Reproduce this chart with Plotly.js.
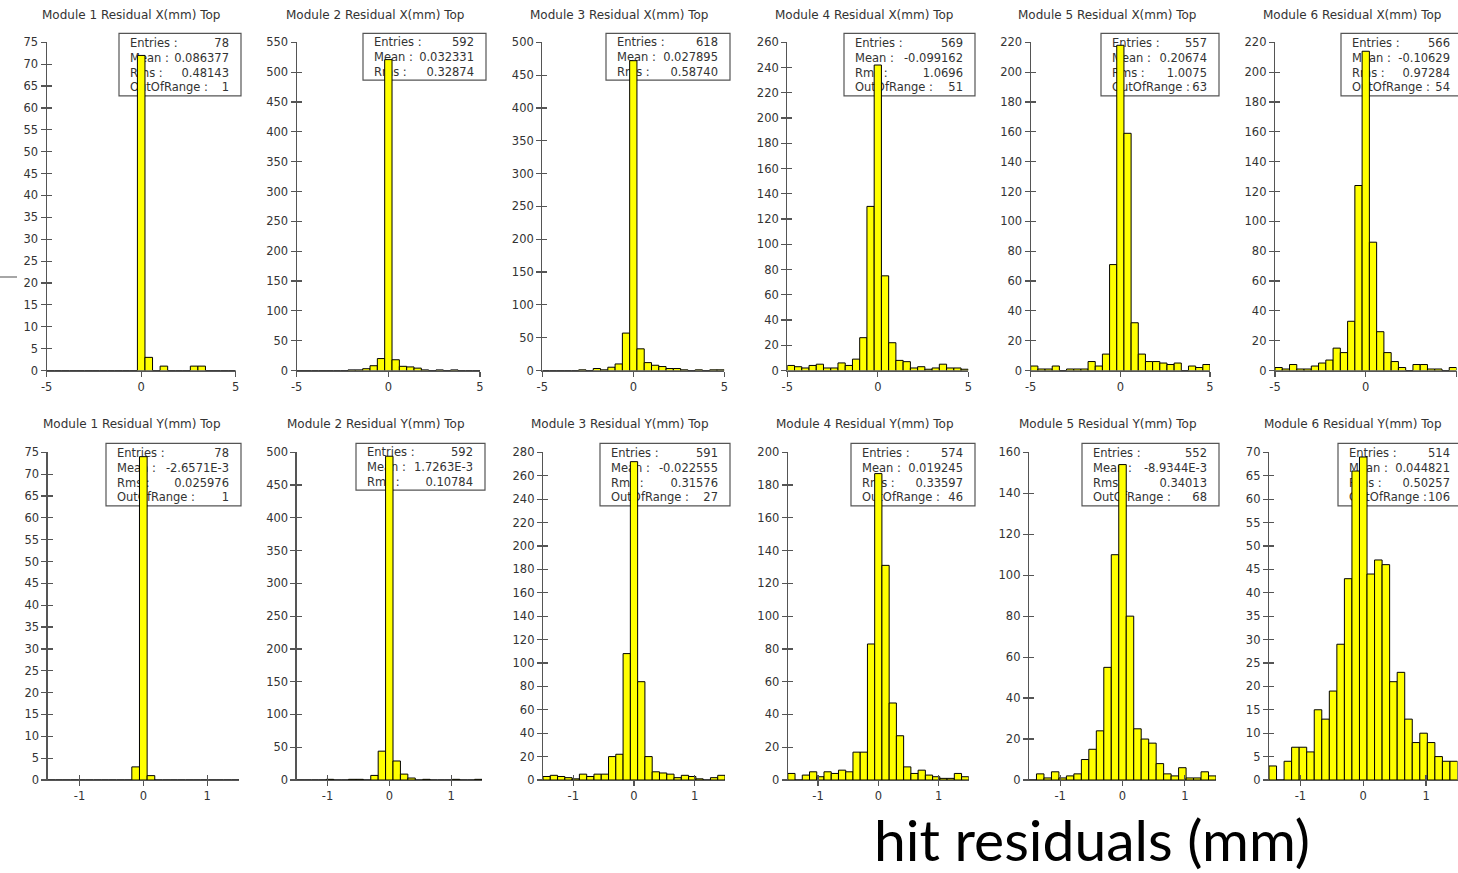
<!DOCTYPE html>
<html><head><meta charset="utf-8">
<script src="https://cdn.plot.ly/plotly-3.0.1.min.js"></script>
<style>html,body{margin:0;padding:0;background:#fff;}#chart{width:1458px;height:873px;}</style>
</head><body><div id="chart"></div>
<script>
// ---------------- data ----------------
const titles = [
  "Module 1 Residual X(mm) Top","Module 2 Residual X(mm) Top","Module 3 Residual X(mm) Top",
  "Module 4 Residual X(mm) Top","Module 5 Residual X(mm) Top","Module 6 Residual X(mm) Top",
  "Module 1 Residual Y(mm) Top","Module 2 Residual Y(mm) Top","Module 3 Residual Y(mm) Top",
  "Module 4 Residual Y(mm) Top","Module 5 Residual Y(mm) Top","Module 6 Residual Y(mm) Top"
];
// histogram bins: 25 bins, first bin centre and bin width
const xBinStart = -4.8, xBinWidth = 0.4;     // residual X: [-5, 5]
const yBinStart = -1.44, yBinWidth = 0.12;   // residual Y: [-1.5, 1.5]

const m1X = [0,0,0,0,0,0,0,0,0,0,0,0,72,3,0,1,0,0,0,1,1,0,0,0,0];
const m2X = [0,0,0,0,0,0,0,1,1,3,8,20,521,18,7,6,4,1,0,1,0,1,0,0,0];
const m3X = [0,0,0,0,0,1,0,3,1,5,10,57,472,33,12,8,6,3,3,1,0,1,0,1,1];
const m4X = [4,3,2,4,5,2,2,6,4,9,26,130,242,75,22,8,7,2,3,1,2,5,2,2,1];
const m5X = [3,1,1,3,0,1,1,1,6,3,11,71,218,159,32,11,6,6,5,4,5,0,3,2,4];
const m6X = [2,1,4,1,1,3,5,7,15,12,33,124,214,86,26,12,6,2,0,4,4,1,1,0,2];
const m1Y = [0,0,0,0,0,0,0,0,0,0,0,3,74,1,0,0,0,0,0,0,0,0,0,0,0];
const m2Y = [0,0,0,0,1,0,0,1,1,0,7,44,494,29,9,3,0,1,0,0,0,1,0,0,1];
const m3Y = [3,4,3,2,1,5,3,5,5,20,22,108,272,84,20,7,6,5,2,4,3,1,0,2,4];
const m4Y = [4,0,3,5,2,5,4,6,5,17,17,83,187,131,47,27,8,4,6,3,2,1,1,4,2];
const m5Y = [0,3,1,4,1,2,3,10,15,24,55,110,154,80,25,20,18,8,3,2,6,1,1,4,2];
const m6Y = [3,0,4,7,7,6,15,13,19,29,43,66,69,44,47,46,21,23,13,8,10,8,5,4,4];
const allCounts = [m1X,m2X,m3X,m4X,m5X,m6X,m1Y,m2Y,m3Y,m4Y,m5Y,m6Y];

// y axis: top tick and step
const yTop  = [75,550,500,260,220,220, 75,500,280,200,160,70];
const yStep = [5,50,50,20,20,20, 5,50,20,20,20,5];
const xTicksTop = [-5,0,5];
const xTicksBottom = [-1,0,1];

// statistics boxes
const statEntries = ["78","592","618","569","557","566","78","592","591","574","552","514"];
const statMean = ["0.086377","0.032331","0.027895","-0.099162","0.20674","-0.10629",
                  "-2.6571E-3","1.7263E-3","-0.022555","0.019245","-8.9344E-3","0.044821"];
const statRms = ["0.48143","0.32874","0.58740","1.0696","1.0075","0.97284",
                 "0.025976","0.10784","0.31576","0.33597","0.34013","0.50257"];
const statOOR = ["1",null,null,"51","63","54","1",null,"27","46","68","106"];
const bigLabel = "hit residuals (mm)";

// ---------------- layout geometry (pixels) ----------------
const W = 1458, H = 873;
const FONT = "DejaVu Sans";
const rowPx = [[42.3,370.5],[452.3,780]];
const colPx = [[46.7,235.7],[296.7,480],[542.3,724.3],[787.3,968.3],[1030.7,1210],[1275,1456.5],
               [47.6,239],[296.6,482],[543,725],[787.8,968.8],[1029,1216],[1269,1457.5]];
const boxPx = [[119,241],[363,486],[606,730],[844,975],[1101,1219],[1341,1462],
               [106,241],[356,485],[600,730],[851,975],[1082,1219],[1338,1462]];
const titleCx = [131,374.5,618.5,863.5,1106.5,1351.5,132,375.5,620,865,1107.5,1353];
const titleY = [15,424];
const px = v => v / W;
const py = v => 1 - v / H;

const traces = [];
const layout = {
  width: W, height: H,
  margin: {l:0, r:0, t:0, b:0},
  paper_bgcolor: "#ffffff",
  plot_bgcolor: "rgba(0,0,0,0)",
  showlegend: false,
  bargap: 0,
  font: {family: FONT, color: "#333"},
  shapes: [], annotations: []
};

const axCol = "#555";
const tickFont = {family: FONT, size: 11.5, color: "#333"};

for (let i = 0; i < 12; i++) {
  const n = i + 1, ov = i + 13;
  const isX = i < 6;
  const row = isX ? 0 : 1;
  const xr = isX ? [-5,5] : [-1.5,1.5];
  const tv = isX ? xTicksTop : xTicksBottom;
  const xs = n === 1 ? "" : String(n);
  const xdom = [px(colPx[i][0]), px(colPx[i][1])];
  const ydom = [py(rowPx[row][1]), py(rowPx[row][0])];

  traces.push({
    type: "bar",
    x0: isX ? xBinStart : yBinStart,
    dx: isX ? xBinWidth : yBinWidth,
    y: allCounts[i],
    width: isX ? xBinWidth : yBinWidth,
    marker: {color: "#ffff00", line: {color: "#000", width: 1}},
    xaxis: "x" + xs, yaxis: "y" + xs,
    hoverinfo: "skip"
  });

  layout["xaxis" + xs] = {
    domain: xdom, range: xr, anchor: "y" + xs,
    showline: true, linecolor: axCol, linewidth: 1.2,
    ticks: "outside", ticklen: 5, tickcolor: axCol, tickwidth: 1.2,
    tickmode: "array", tickvals: tv, ticktext: tv.map(String),
    tickfont: tickFont, showgrid: false, zeroline: false, fixedrange: true
  };
  layout["yaxis" + xs] = {
    domain: ydom, range: [0, yTop[i]], anchor: "x" + xs,
    showline: true, linecolor: axCol, linewidth: 1.2,
    ticks: "outside", ticklen: 5, tickcolor: axCol, tickwidth: 1.2,
    tick0: 0, dtick: yStep[i], tickfont: tickFont,
    showgrid: false, zeroline: false, fixedrange: true
  };
  // overlay axes draw the inner half of the crossing ticks
  layout["xaxis" + ov] = {
    domain: xdom, range: xr, anchor: "y" + xs, overlaying: "x" + xs,
    showline: false, ticks: "inside", ticklen: 5, tickcolor: axCol, tickwidth: 1.2,
    tickmode: "array", tickvals: tv.filter(v => v !== 0), showticklabels: false,
    showgrid: false, zeroline: false, fixedrange: true
  };
  layout["yaxis" + ov] = {
    domain: ydom, range: [0, yTop[i]], anchor: "x" + xs, overlaying: "y" + xs, side: "left",
    showline: false, ticks: "inside", ticklen: 5, tickcolor: axCol, tickwidth: 1.2,
    tick0: 0, dtick: yStep[i], showticklabels: false,
    showgrid: false, zeroline: false, fixedrange: true
  };
  traces.push({type: "scatter", x: [], y: [], xaxis: "x" + ov, yaxis: "y" + ov, hoverinfo: "skip"});

  // title
  layout.annotations.push({
    text: titles[i], xref: "paper", yref: "paper",
    x: px(titleCx[i]), y: py(titleY[row]), xanchor: "center", yanchor: "middle",
    showarrow: false, font: {family: FONT, size: 12, color: "#333"}
  });

  // statistics box
  const labels = ["Entries :", "Mean :", "Rms :"];
  const vals = [statEntries[i], statMean[i], statRms[i]];
  if (statOOR[i] !== null) { labels.push("OutOfRange :"); vals.push(statOOR[i]); }
  const top = rowPx[row][0] - 9;
  const bot = top + (labels.length === 4 ? 62.5 : 46.8);
  const common = {type: "rect", xref: "paper", yref: "paper", layer: "below",
    x0: px(boxPx[i][0]), x1: px(boxPx[i][1]), y0: py(bot), y1: py(top)};
  layout.shapes.push(Object.assign({}, common, {
    line: {color: "#555", width: 1.2}, fillcolor: "rgba(0,0,0,0)",
    label: {text: labels.join("<br>"), textposition: "middle left", padding: 8,
            font: {family: FONT, size: 11.5, color: "#333"}}
  }));
  layout.shapes.push(Object.assign({}, common, {
    line: {width: 0}, fillcolor: "rgba(0,0,0,0)",
    label: {text: vals.join("<br>"), textposition: "middle right", padding: 9,
            font: {family: FONT, size: 11.5, color: "#333"}}
  }));
}

// small grey mark on the left edge
layout.shapes.push({type: "line", xref: "paper", yref: "paper",
  x0: 0, x1: px(17), y0: py(277), y1: py(277), line: {color: "#888", width: 1.5}});

// big caption
layout.annotations.push({
  text: bigLabel, xref: "paper", yref: "paper",
  x: px(1091.5), y: py(839), xanchor: "center", yanchor: "middle",
  borderpad: 0,
  showarrow: false, font: {family: "Lato", size: 57, color: "#000"}
});

Plotly.newPlot("chart", traces, layout, {staticPlot: true, displayModeBar: false});
</script>
</body></html>
